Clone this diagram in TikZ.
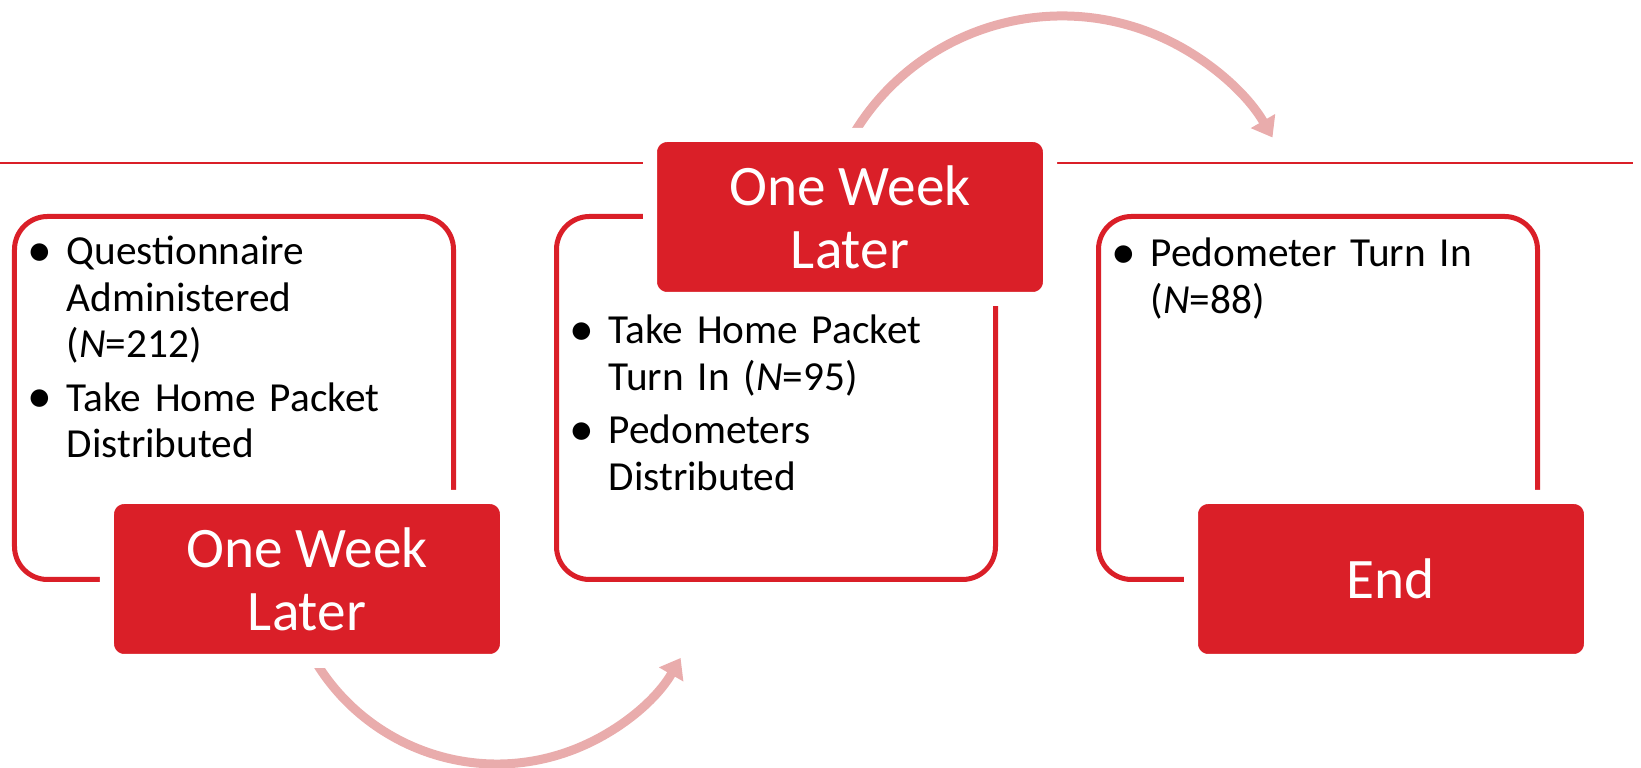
\documentclass[tikz,border=0pt]{standalone}
\usepackage{fontspec}
\setmainfont{Carlito}
\usetikzlibrary{arrows.meta, positioning}

\definecolor{stepred}{RGB}{218,31,40}
\definecolor{turnpink}{RGB}{233,172,172}

% bullet with hanging indent
\newcommand{\itm}{\setlength{\parskip}{2pt}\hangindent=0.54cm\hangafter=1%
  \makebox[0.54cm][c]{\raisebox{-0.04em}{\scalebox{1.2}{\textbullet}}}}

\begin{document}
\begin{tikzpicture}[node distance=5.42cm,
  panel/.style={draw=stepred, line width=0.05cm, fill=white, rounded corners=0.33cm,
    minimum width=4.39cm, minimum height=3.63cm},
  tag/.style={draw=white, line width=0.14cm, fill=stepred, rounded corners=0.17cm,
    minimum width=4.00cm, minimum height=1.64cm, text=white, align=center,
    font=\fontsize{16.3}{17.9}\selectfont},
  items/.style={anchor=base west, inner sep=0pt, text width=4.3cm, align=left,
    font=\fontsize{11.75}{13.2}\selectfont},
  turn/.style={turnpink, line width=0.09cm, -{Triangle[length=0.19cm, width=0.27cm]}}]
  \useasboundingbox (0,0) rectangle (16.41,7.68);

  \node[panel] (box1) at (2.34,3.70) {};
  \node[panel] (box2) [right of=box1] {};
  \node[panel] (box3) [right of=box2] {};

  \draw[stepred, line width=0.017cm] (0,6.05) -- (16.33,6.05);

  % arrows start under the tags
  \coordinate (a1) at (2.978,1.435);
  \coordinate (a2) at (8.418,6.117);
  \draw[turn] (a1) arc[start angle=200, end angle=330, radius=2.12];
  \draw[turn] (a2) arc[start angle=155, end angle=30, radius=2.43];

  \node[tag] (tag1) at ([shift={(0.73,-1.81)}]box1.center) {One Week\\Later};
  \node[tag] (tag2) at ([shift={(0.74,1.81)}]box2.center) {One Week\\Later};
  \node[tag] (tag3) at ([shift={(0.73,-1.81)}]box3.center) {End};

  \node[items] (list1) at ([yshift=-0.51cm]box1.north west)
    {\itm Questionnaire\newline Administered\newline (\textit{N}=212)\par
     \itm Take Home Packet\newline Distributed\par};
  \node[items] (list2) at ([yshift=-1.30cm]box2.north west)
    {\itm Take Home Packet\newline Turn In (\textit{N}=95)\par
     \itm Pedometers\newline Distributed\par};
  \node[items] (list3) at ([yshift=-0.53cm]box3.north west)
    {\itm Pedometer Turn In\newline (\textit{N}=88)\par};
\end{tikzpicture}
\end{document}
